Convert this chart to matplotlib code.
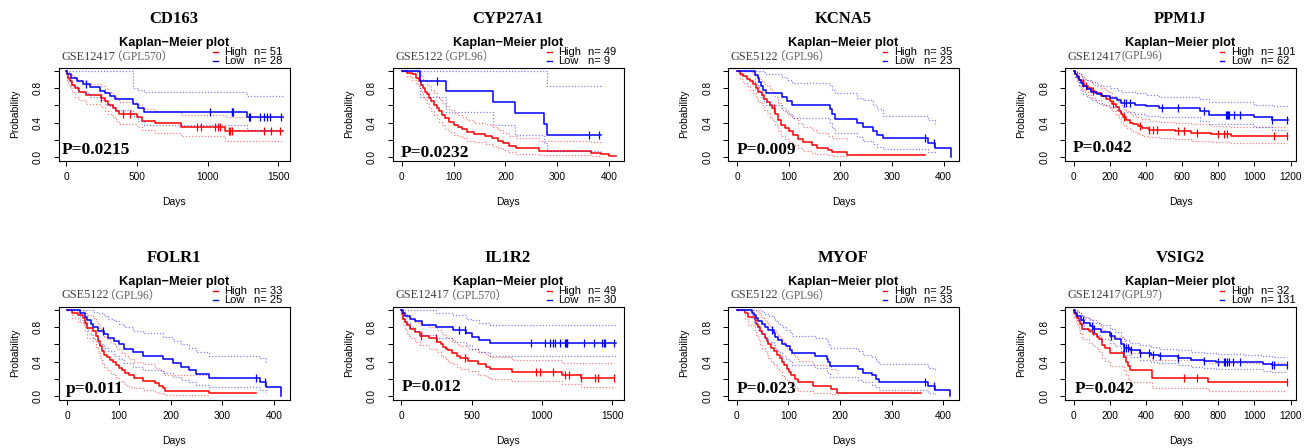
import numpy as np
import matplotlib
matplotlib.use('Agg')
import matplotlib.pyplot as plt

# ---- panel labels ----
GENES = ['CD163', 'CYP27A1', 'KCNA5', 'PPM1J', 'FOLR1', 'IL1R2', 'MYOF', 'VSIG2']
DATASETS = ['GSE12417', 'GSE5122', 'GSE5122', 'GSE12417', 'GSE5122', 'GSE12417', 'GSE5122', 'GSE12417']
PLATFORMS = ['（GPL570）', '（GPL96）', '（GPL96）', '(GPL96)', '（GPL96）', '（GPL570）', '（GPL96）', '(GPL97)']
P_LABELS = ['P=0.0215', 'P=0.0232', 'P=0.009', 'P=0.042', 'p=0.011', 'P=0.012', 'P=0.023', 'P=0.042']
N_HIGH = [51, 49, 35, 101, 33, 49, 25, 32]
N_LOW = [28, 9, 23, 62, 25, 30, 33, 131]
X_TICKS = [[0, 500, 1000, 1500], [0, 100, 200, 300, 400], [0, 100, 200, 300, 400],
           [0, 200, 400, 600, 800, 1000, 1200], [0, 100, 200, 300, 400],
           [0, 500, 1000, 1500], [0, 100, 200, 300, 400], [0, 200, 400, 600, 800, 1000, 1200]]

# ---- CD163 ----
CD163_HIGH_T = [0, 5, 12, 25, 40, 60, 95, 140, 250, 275, 300, 335, 350, 375, 500, 540, 625, 810, 1125, 1530]
CD163_HIGH_S = [1.0, 0.96, 0.92, 0.88, 0.84, 0.80, 0.76, 0.72, 0.69, 0.65, 0.61, 0.57, 0.54, 0.50, 0.46, 0.42, 0.39, 0.35, 0.30, 0.30]
CD163_HIGH_UPPER = [1.0, 1.0, 0.99, 0.97, 0.94, 0.91, 0.88, 0.85, 0.82, 0.79, 0.75, 0.71, 0.68, 0.64, 0.60, 0.56, 0.53, 0.49, 0.46, 0.46]
CD163_HIGH_LOWER = [1.0, 0.91, 0.85, 0.80, 0.75, 0.70, 0.66, 0.62, 0.58, 0.54, 0.50, 0.46, 0.42, 0.38, 0.35, 0.31, 0.28, 0.24, 0.19, 0.19]
CD163_HIGH_CENS = [250, 405, 455, 925, 950, 1050, 1070, 1085, 1150, 1160, 1175, 1400, 1450, 1510]
CD163_LOW_T = [0, 5, 33, 75, 120, 169, 240, 275, 310, 345, 473, 505, 548, 1275, 1530]
CD163_LOW_S = [1.0, 0.96, 0.92, 0.88, 0.85, 0.81, 0.77, 0.74, 0.71, 0.67, 0.62, 0.57, 0.52, 0.47, 0.47]
CD163_LOW_UPPER = [1.0, 1.0, 1.0, 1.0, 1.0, 1.0, 1.0, 1.0, 1.0, 1.0, 0.80, 0.78, 0.76, 0.71, 0.71]
CD163_LOW_LOWER = [1.0, 0.89, 0.83, 0.77, 0.74, 0.70, 0.66, 0.62, 0.59, 0.55, 0.48, 0.42, 0.37, 0.31, 0.31]
CD163_LOW_CENS = [140, 1020, 1170, 1175, 1180, 1290, 1300, 1370, 1400, 1420, 1440, 1520]

# ---- CYP27A1 ----
CYP27A1_HIGH_T = [0, 10, 20, 28, 33, 37, 40, 44, 48, 52, 57, 62, 67, 72, 77, 84, 92, 100, 108, 116, 125,
                  140, 160, 175, 185, 195, 206, 220, 265, 366, 385, 400, 413]
CYP27A1_HIGH_S = [1.0, 0.98, 0.96, 0.92, 0.88, 0.84, 0.80, 0.76, 0.73, 0.69, 0.65, 0.61, 0.57, 0.53, 0.49, 0.45, 0.41,
                  0.37, 0.35, 0.33, 0.29, 0.27, 0.25, 0.22, 0.19, 0.16, 0.13, 0.10, 0.07, 0.05, 0.03, 0.016, 0.016]
CYP27A1_HIGH_UPPER = [1.0, 1.0, 1.0, 0.99, 0.97, 0.94, 0.91, 0.88, 0.85, 0.82, 0.78, 0.74, 0.70, 0.67, 0.63, 0.59, 0.55,
                      0.51, 0.49, 0.47, 0.43, 0.40, 0.38, 0.35, 0.32, 0.28, 0.25, 0.22, 0.19, 0.17, 0.15]
CYP27A1_HIGH_LOWER = [1.0, 0.94, 0.90, 0.85, 0.80, 0.75, 0.70, 0.66, 0.62, 0.58, 0.54, 0.49, 0.45, 0.41, 0.37, 0.33, 0.29,
                      0.26, 0.24, 0.22, 0.19, 0.17, 0.15, 0.13, 0.10, 0.08, 0.06, 0.04, 0.02, 0.01, 0.0]
CYP27A1_HIGH_CENS = []
CYP27A1_LOW_T = [0, 36, 86, 176, 219, 275, 280, 385]
CYP27A1_LOW_S = [1.0, 0.889, 0.762, 0.635, 0.508, 0.381, 0.254, 0.254]
CYP27A1_LOW_UPPER = [1.0, 1.0, 1.0, 1.0, 1.0, 1.0, 0.83, 0.83]
CYP27A1_LOW_LOWER = [1.0, 0.70, 0.52, 0.37, 0.26, 0.16, 0.07, 0.07]
CYP27A1_LOW_CENS = [67, 362, 381]

# ---- KCNA5 ----
KCNA5_HIGH_T = [0, 5, 12, 18, 25, 31, 36, 41, 47, 52, 57, 63, 68, 74, 79, 85, 92, 100, 108, 118, 128, 144, 154, 176, 183, 213, 365]
KCNA5_HIGH_S = [1.0, 0.97, 0.94, 0.91, 0.88, 0.85, 0.80, 0.76, 0.72, 0.68, 0.64, 0.61, 0.57, 0.50, 0.43, 0.37, 0.34, 0.30,
                0.26, 0.21, 0.17, 0.14, 0.11, 0.085, 0.057, 0.029, 0.029]
KCNA5_HIGH_UPPER = [1.0, 1.0, 1.0, 1.0, 0.99, 0.97, 0.94, 0.91, 0.88, 0.85, 0.82, 0.79, 0.76, 0.70, 0.63, 0.57, 0.53, 0.49,
                    0.45, 0.40, 0.35, 0.31, 0.28, 0.25, 0.22, 0.20]
KCNA5_HIGH_LOWER = [1.0, 0.91, 0.86, 0.82, 0.78, 0.74, 0.69, 0.64, 0.60, 0.55, 0.51, 0.47, 0.43, 0.37, 0.30, 0.25, 0.21, 0.18,
                    0.14, 0.10, 0.07, 0.05, 0.03, 0.02, 0.01, 0.005]
KCNA5_HIGH_CENS = [71]
KCNA5_LOW_T = [0, 35, 40, 43, 46, 49, 56, 87, 97, 106, 180, 183, 190, 233, 244, 263, 270, 283, 370, 384, 415]
KCNA5_LOW_S = [1.0, 0.957, 0.913, 0.87, 0.826, 0.783, 0.739, 0.696, 0.652, 0.609, 0.56, 0.50, 0.44, 0.39, 0.35, 0.30,
               0.26, 0.22, 0.165, 0.11, 0.0]
KCNA5_LOW_UPPER = [1.0, 1.0, 1.0, 1.0, 1.0, 0.99, 0.96, 0.93, 0.89, 0.86, 0.82, 0.78, 0.74, 0.69, 0.66, 0.60, 0.56, 0.48, 0.43, 0.38]
KCNA5_LOW_LOWER = [1.0, 0.87, 0.81, 0.75, 0.70, 0.65, 0.60, 0.55, 0.50, 0.45, 0.40, 0.34, 0.28, 0.23, 0.19, 0.15, 0.12, 0.09, 0.06, 0.04]
KCNA5_LOW_CENS = [365, 382]

# ---- PPM1J ----
PPM1J_HIGH_T = [0, 10, 20, 30, 45, 60, 80, 100, 120, 150, 180, 200, 215, 235, 250, 262, 275, 290, 310, 330,
                355, 380, 420, 470, 560, 650, 760, 870, 1180]
PPM1J_HIGH_S = [1.0, 0.97, 0.94, 0.90, 0.86, 0.83, 0.80, 0.77, 0.74, 0.71, 0.68, 0.65, 0.62, 0.58, 0.54, 0.50, 0.46, 0.43,
                0.40, 0.38, 0.36, 0.34, 0.32, 0.31, 0.30, 0.28, 0.265, 0.25, 0.25]
PPM1J_HIGH_UPPER = [1.0, 1.0, 0.99, 0.96, 0.93, 0.90, 0.88, 0.85, 0.82, 0.80, 0.77, 0.74, 0.71, 0.68, 0.64, 0.60, 0.56, 0.53,
                    0.50, 0.48, 0.46, 0.44, 0.42, 0.41, 0.40, 0.38, 0.36, 0.35, 0.35]
PPM1J_HIGH_LOWER = [1.0, 0.94, 0.89, 0.84, 0.79, 0.76, 0.72, 0.69, 0.66, 0.62, 0.59, 0.56, 0.53, 0.49, 0.45, 0.41, 0.37, 0.34,
                    0.31, 0.29, 0.27, 0.25, 0.23, 0.22, 0.21, 0.19, 0.18, 0.16, 0.16]
PPM1J_HIGH_CENS = [50, 70, 110, 220, 280, 370, 420, 440, 460, 580, 610, 680, 800, 830, 850, 1110, 1180]
PPM1J_LOW_T = [0, 10, 20, 30, 40, 55, 75, 95, 130, 160, 200, 240, 265, 340, 400, 470, 700, 750, 1000, 1100, 1185]
PPM1J_LOW_S = [1.0, 0.97, 0.93, 0.89, 0.86, 0.82, 0.79, 0.76, 0.73, 0.71, 0.69, 0.66, 0.63, 0.61, 0.59, 0.57, 0.535,
               0.49, 0.46, 0.43, 0.43]
PPM1J_LOW_UPPER = [1.0, 1.0, 0.99, 0.97, 0.94, 0.91, 0.89, 0.87, 0.84, 0.82, 0.80, 0.78, 0.76, 0.74, 0.72, 0.70, 0.67,
                   0.64, 0.61, 0.59, 0.59]
PPM1J_LOW_LOWER = [1.0, 0.93, 0.87, 0.82, 0.77, 0.73, 0.70, 0.66, 0.63, 0.60, 0.58, 0.55, 0.52, 0.50, 0.48, 0.46, 0.42,
                   0.38, 0.35, 0.31, 0.31]
PPM1J_LOW_CENS = [280, 290, 310, 490, 580, 720, 845, 850, 855, 860, 890, 920, 1100, 1180]

# ---- FOLR1 ----
FOLR1_HIGH_T = [0, 10, 20, 30, 35, 38, 50, 56, 60, 64, 68, 72, 77, 82, 88, 94, 100, 106, 112, 120,
                130, 147, 170, 178, 185, 190, 275, 365]
FOLR1_HIGH_S = [1.0, 0.97, 0.94, 0.91, 0.85, 0.79, 0.76, 0.70, 0.64, 0.58, 0.52, 0.48, 0.45, 0.42, 0.39, 0.36, 0.33, 0.30,
                0.27, 0.24, 0.21, 0.18, 0.15, 0.12, 0.09, 0.06, 0.03, 0.03]
FOLR1_HIGH_UPPER = [1.0, 1.0, 1.0, 0.99, 0.97, 0.94, 0.91, 0.87, 0.83, 0.78, 0.73, 0.69, 0.66, 0.63, 0.60, 0.56, 0.53, 0.50,
                    0.46, 0.43, 0.40, 0.37, 0.33, 0.30, 0.27, 0.24, 0.24]
FOLR1_HIGH_LOWER = [1.0, 0.91, 0.86, 0.82, 0.75, 0.68, 0.64, 0.57, 0.50, 0.44, 0.38, 0.34, 0.30, 0.27, 0.24, 0.21, 0.18, 0.16,
                    0.13, 0.11, 0.09, 0.07, 0.05, 0.03, 0.02, 0.01, 0.01]
FOLR1_HIGH_CENS = []
FOLR1_LOW_T = [0, 25, 35, 38, 45, 50, 60, 72, 78, 90, 100, 110, 128, 147, 186, 205, 220, 235, 250, 275, 372, 384, 413]
FOLR1_LOW_S = [1.0, 0.96, 0.92, 0.88, 0.84, 0.80, 0.76, 0.72, 0.68, 0.64, 0.60, 0.55, 0.51, 0.47, 0.43, 0.38, 0.34, 0.30,
               0.26, 0.21, 0.165, 0.11, 0.0]
FOLR1_LOW_UPPER = [1.0, 1.0, 1.0, 1.0, 1.0, 0.98, 0.96, 0.93, 0.90, 0.87, 0.84, 0.80, 0.76, 0.73, 0.69, 0.64, 0.60, 0.56,
                   0.51, 0.47, 0.44, 0.40]
FOLR1_LOW_LOWER = [1.0, 0.88, 0.82, 0.77, 0.71, 0.66, 0.61, 0.56, 0.52, 0.47, 0.43, 0.38, 0.34, 0.30, 0.27, 0.22, 0.19, 0.16,
                   0.13, 0.10, 0.07, 0.04]
FOLR1_LOW_CENS = [69, 365, 382]

# ---- IL1R2 ----
IL1R2_HIGH_T = [0, 5, 10, 24, 40, 64, 100, 135, 194, 255, 280, 300, 320, 336, 360, 395, 420, 478, 549, 600,
                632, 785, 1140, 1275, 1515]
IL1R2_HIGH_S = [1.0, 0.95, 0.90, 0.86, 0.82, 0.78, 0.74, 0.70, 0.67, 0.63, 0.60, 0.57, 0.55, 0.53, 0.50, 0.46, 0.44, 0.41,
                0.37, 0.34, 0.315, 0.28, 0.245, 0.205, 0.205]
IL1R2_HIGH_UPPER = [1.0, 1.0, 0.98, 0.95, 0.92, 0.89, 0.86, 0.82, 0.80, 0.77, 0.74, 0.71, 0.69, 0.67, 0.64, 0.60, 0.58, 0.55,
                    0.51, 0.48, 0.45, 0.42, 0.38, 0.38, 0.38]
IL1R2_HIGH_LOWER = [1.0, 0.89, 0.82, 0.77, 0.72, 0.68, 0.63, 0.59, 0.55, 0.51, 0.48, 0.45, 0.43, 0.40, 0.37, 0.34, 0.32, 0.29,
                    0.25, 0.22, 0.20, 0.17, 0.14, 0.10, 0.10]
IL1R2_HIGH_CENS = [140, 245, 450, 960, 985, 1080, 1165, 1195, 1280, 1380, 1400, 1510]
IL1R2_LOW_T = [0, 10, 30, 60, 100, 150, 250, 370, 460, 500, 550, 630, 1530]
IL1R2_LOW_S = [1.0, 0.97, 0.93, 0.90, 0.87, 0.83, 0.80, 0.77, 0.73, 0.69, 0.65, 0.62, 0.62]
IL1R2_LOW_UPPER = [1.0, 1.0, 1.0, 1.0, 1.0, 1.0, 0.97, 0.94, 0.90, 0.88, 0.85, 0.82, 0.82]
IL1R2_LOW_LOWER = [1.0, 0.91, 0.85, 0.80, 0.76, 0.71, 0.67, 0.63, 0.59, 0.55, 0.51, 0.47, 0.47]
IL1R2_LOW_CENS = [410, 450, 920, 1020, 1060, 1080, 1090, 1130, 1165, 1170, 1175, 1180, 1300, 1370, 1430, 1440, 1450, 1510]

# ---- MYOF ----
MYOF_HIGH_T = [0, 15, 22, 35, 38, 41, 45, 49, 54, 58, 61, 66, 72, 78, 84, 87, 92, 98, 101, 104, 113, 119, 148, 182, 193, 357]
MYOF_HIGH_S = [1.0, 0.96, 0.92, 0.88, 0.84, 0.80, 0.76, 0.72, 0.68, 0.64, 0.60, 0.56, 0.52, 0.48, 0.44, 0.40, 0.36, 0.32,
               0.28, 0.24, 0.20, 0.16, 0.12, 0.08, 0.04, 0.04]
MYOF_HIGH_UPPER = [1.0, 1.0, 1.0, 1.0, 0.99, 0.97, 0.94, 0.91, 0.88, 0.85, 0.82, 0.78, 0.75, 0.71, 0.68, 0.64, 0.60, 0.56,
                   0.53, 0.49, 0.45, 0.41, 0.36, 0.31, 0.27]
MYOF_HIGH_LOWER = [1.0, 0.89, 0.82, 0.76, 0.71, 0.66, 0.61, 0.56, 0.52, 0.48, 0.44, 0.40, 0.36, 0.32, 0.28, 0.25, 0.21, 0.18,
                   0.15, 0.12, 0.09, 0.06, 0.04, 0.02, 0.01]
MYOF_HIGH_CENS = []
MYOF_LOW_T = [0, 29, 33, 37, 42, 49, 55, 61, 72, 74, 80, 87, 96, 103, 107, 151, 174, 177, 180, 235, 244, 262, 270, 276,
              370, 384, 413]
MYOF_LOW_S = [1.0, 0.97, 0.94, 0.91, 0.87, 0.84, 0.80, 0.77, 0.73, 0.69, 0.65, 0.61, 0.58, 0.54, 0.50, 0.47, 0.43, 0.39,
              0.35, 0.31, 0.27, 0.24, 0.20, 0.16, 0.12, 0.07, 0.0]
MYOF_LOW_UPPER = [1.0, 1.0, 1.0, 1.0, 1.0, 0.98, 0.95, 0.93, 0.90, 0.87, 0.84, 0.80, 0.77, 0.74, 0.70, 0.67, 0.64, 0.60,
                  0.56, 0.52, 0.48, 0.45, 0.41, 0.37, 0.33, 0.29]
MYOF_LOW_LOWER = [1.0, 0.91, 0.86, 0.82, 0.77, 0.72, 0.68, 0.63, 0.59, 0.55, 0.51, 0.47, 0.43, 0.39, 0.36, 0.33, 0.29, 0.26,
                  0.22, 0.19, 0.16, 0.13, 0.10, 0.07, 0.04, 0.02]
MYOF_LOW_CENS = [69, 365, 382]

# ---- VSIG2 ----
VSIG2_HIGH_T = [0, 5, 13, 20, 28, 37, 46, 83, 110, 129, 140, 157, 175, 203, 280, 290, 300, 313, 433, 746, 1180]
VSIG2_HIGH_S = [1.0, 0.97, 0.94, 0.91, 0.875, 0.84, 0.78, 0.75, 0.72, 0.69, 0.66, 0.59, 0.56, 0.50, 0.45, 0.40, 0.35,
                0.30, 0.21, 0.16, 0.16]
VSIG2_HIGH_UPPER = [1.0, 1.0, 1.0, 1.0, 0.98, 0.96, 0.92, 0.90, 0.88, 0.86, 0.83, 0.77, 0.74, 0.69, 0.64, 0.60, 0.55,
                    0.50, 0.42, 0.38, 0.38]
VSIG2_HIGH_LOWER = [1.0, 0.91, 0.86, 0.82, 0.77, 0.73, 0.66, 0.62, 0.58, 0.55, 0.51, 0.44, 0.41, 0.35, 0.30, 0.25, 0.20,
                    0.16, 0.09, 0.06, 0.06]
VSIG2_HIGH_CENS = [275, 610, 680, 1180]
VSIG2_LOW_T = [0, 10, 20, 40, 60, 90, 110, 150, 200, 230, 260, 280, 310, 370, 430, 470, 580, 650, 720, 790, 950, 1050, 1100, 1180]
VSIG2_LOW_S = [1.0, 0.96, 0.93, 0.88, 0.845, 0.81, 0.78, 0.74, 0.70, 0.66, 0.60, 0.56, 0.53, 0.50, 0.48, 0.46, 0.44, 0.42,
               0.41, 0.40, 0.39, 0.375, 0.36, 0.36]
VSIG2_LOW_UPPER = [1.0, 1.0, 0.98, 0.94, 0.91, 0.88, 0.85, 0.82, 0.78, 0.74, 0.69, 0.65, 0.62, 0.59, 0.57, 0.55, 0.53, 0.51,
                   0.50, 0.49, 0.48, 0.465, 0.45, 0.45]
VSIG2_LOW_LOWER = [1.0, 0.92, 0.88, 0.82, 0.78, 0.74, 0.71, 0.66, 0.62, 0.58, 0.52, 0.48, 0.45, 0.42, 0.40, 0.38, 0.36, 0.34,
                   0.33, 0.32, 0.31, 0.295, 0.28, 0.28]
VSIG2_LOW_CENS = [50, 100, 115, 210, 280, 290, 300, 320, 370, 420, 440, 480, 580, 720, 800, 830, 840, 850, 860, 880, 920,
                  1100, 1110, 1180]

HIGH_CURVES = [
    (CD163_HIGH_T, CD163_HIGH_S, CD163_HIGH_UPPER, CD163_HIGH_LOWER, CD163_HIGH_CENS),
    (CYP27A1_HIGH_T, CYP27A1_HIGH_S, CYP27A1_HIGH_UPPER, CYP27A1_HIGH_LOWER, CYP27A1_HIGH_CENS),
    (KCNA5_HIGH_T, KCNA5_HIGH_S, KCNA5_HIGH_UPPER, KCNA5_HIGH_LOWER, KCNA5_HIGH_CENS),
    (PPM1J_HIGH_T, PPM1J_HIGH_S, PPM1J_HIGH_UPPER, PPM1J_HIGH_LOWER, PPM1J_HIGH_CENS),
    (FOLR1_HIGH_T, FOLR1_HIGH_S, FOLR1_HIGH_UPPER, FOLR1_HIGH_LOWER, FOLR1_HIGH_CENS),
    (IL1R2_HIGH_T, IL1R2_HIGH_S, IL1R2_HIGH_UPPER, IL1R2_HIGH_LOWER, IL1R2_HIGH_CENS),
    (MYOF_HIGH_T, MYOF_HIGH_S, MYOF_HIGH_UPPER, MYOF_HIGH_LOWER, MYOF_HIGH_CENS),
    (VSIG2_HIGH_T, VSIG2_HIGH_S, VSIG2_HIGH_UPPER, VSIG2_HIGH_LOWER, VSIG2_HIGH_CENS),
]
LOW_CURVES = [
    (CD163_LOW_T, CD163_LOW_S, CD163_LOW_UPPER, CD163_LOW_LOWER, CD163_LOW_CENS),
    (CYP27A1_LOW_T, CYP27A1_LOW_S, CYP27A1_LOW_UPPER, CYP27A1_LOW_LOWER, CYP27A1_LOW_CENS),
    (KCNA5_LOW_T, KCNA5_LOW_S, KCNA5_LOW_UPPER, KCNA5_LOW_LOWER, KCNA5_LOW_CENS),
    (PPM1J_LOW_T, PPM1J_LOW_S, PPM1J_LOW_UPPER, PPM1J_LOW_LOWER, PPM1J_LOW_CENS),
    (FOLR1_LOW_T, FOLR1_LOW_S, FOLR1_LOW_UPPER, FOLR1_LOW_LOWER, FOLR1_LOW_CENS),
    (IL1R2_LOW_T, IL1R2_LOW_S, IL1R2_LOW_UPPER, IL1R2_LOW_LOWER, IL1R2_LOW_CENS),
    (MYOF_LOW_T, MYOF_LOW_S, MYOF_LOW_UPPER, MYOF_LOW_LOWER, MYOF_LOW_CENS),
    (VSIG2_LOW_T, VSIG2_LOW_S, VSIG2_LOW_UPPER, VSIG2_LOW_LOWER, VSIG2_LOW_CENS),
]

# ---- layout (pixels in a 1313x448 canvas) ----
FIG_W, FIG_H = 1313, 448
COL_LEFT = [58.5, 392.5, 728, 1065]
ROW_TOP = [67.5, 306.5]
AX_W, AX_H = 231, 93
XLIMS = [(-53, 1578), (-18, 428), (-18, 430), (-47, 1230), (-17, 430), (-62, 1580), (-17, 430), (-47, 1230)]
P_POS = [(0.015, 0.07), (0.037, 0.04), (0.039, 0.065), (0.035, 0.095),
         (0.032, 0.075), (0.042, 0.092), (0.039, 0.075), (0.043, 0.075)]

RED = '#ff0000'
BLUE = '#0000ff'
SERIF = 'Liberation Serif'
SANS = 'Liberation Sans'


def draw_km(ax, curve, color):
    t, s, upper, lower, cens = curve
    n = len(upper)
    dotted = (0, (1, 1.5))
    ax.step(t[:n], upper, where='post', color=color, lw=0.9, ls=dotted, alpha=0.5)
    ax.step(t[:n], lower, where='post', color=color, lw=0.9, ls=dotted, alpha=0.5)
    ax.step(t, s, where='post', color=color, lw=1.1)
    if len(cens):
        idx = np.searchsorted(t, cens, side='right') - 1
        ax.plot(cens, np.asarray(s)[idx], ls='none', marker='|', ms=5.5, mew=0.9, color=color)


fig = plt.figure(figsize=(FIG_W / 100, FIG_H / 100), dpi=100)

for i, gene in enumerate(GENES):
    row, col = divmod(i, 4)
    left = COL_LEFT[col] / FIG_W
    bottom = (FIG_H - ROW_TOP[row] - AX_H) / FIG_H
    ax = fig.add_axes([left, bottom, AX_W / FIG_W, AX_H / FIG_H])

    draw_km(ax, HIGH_CURVES[i], RED)
    draw_km(ax, LOW_CURVES[i], BLUE)

    ax.set_xlim(*XLIMS[i])
    ax.set_ylim(-0.04, 1.04)
    ax.set_xticks(X_TICKS[i])
    ax.set_xticklabels([str(v) for v in X_TICKS[i]], fontsize=7.3, family=SANS)
    ax.set_yticks([0, 0.2, 0.4, 0.6, 0.8, 1.0])
    ax.set_yticklabels(['0.0', '', '0.4', '', '0.8', ''], fontsize=7.3, family=SANS)
    ax.tick_params(axis='both', direction='out', length=3.6, width=0.7)
    ax.tick_params(axis='x', pad=4.5)
    ax.tick_params(axis='y', pad=7.5, labelrotation=90)
    for lab in ax.get_yticklabels():
        lab.set_va('center')
    for sp in ax.spines.values():
        sp.set_linewidth(0.8)

    # axis titles
    ax.text(-43.5 / AX_W, 0.5, 'Probability', rotation=90, ha='center', va='center',
            fontsize=7.5, family=SANS, transform=ax.transAxes)
    ax.text(0.5, -41.5 / AX_H, 'Days', ha='center', va='center',
            fontsize=7.5, family=SANS, transform=ax.transAxes)

    # titles
    ax.text(0.5, 1 + 49 / AX_H, gene, ha='center', va='center', fontsize=12,
            fontweight='bold', family=SERIF, transform=ax.transAxes)
    ax.text(0.5, 1 + 25 / AX_H, 'Kaplan\u2212Meier plot', ha='center', va='center', fontsize=9.2,
            fontweight='bold', family=SANS, transform=ax.transAxes)
    t1 = ax.text(0.011, 1 + 5 / AX_H, DATASETS[i], ha='left', va='bottom', fontsize=8.8,
                 color='#404040', family=[SERIF, 'Noto Sans CJK SC'], transform=ax.transAxes)
    shift = -3 if PLATFORMS[i].startswith('（') else 0
    ax.annotate(PLATFORMS[i], xy=(1, 0), xycoords=t1, xytext=(shift, 0), textcoords='offset points',
                ha='left', va='bottom', fontsize=8.3, color='#606060', family=[SERIF, 'Noto Sans CJK SC'])

    # legend
    for yy, color, name, n in [(1 + 15.8 / AX_H, RED, 'High', N_HIGH[i]),
                               (1 + 6.5 / AX_H, BLUE, 'Low', N_LOW[i])]:
        ax.plot([0.670, 0.690], [yy, yy], color=color, lw=1.0, transform=ax.transAxes, clip_on=False)
        ax.text(0.718, yy, name, ha='left', va='center', fontsize=8, family=SANS, transform=ax.transAxes)
        ax.text(0.848, yy, f'n= {n}', ha='left', va='center', fontsize=8, family=SANS, transform=ax.transAxes)

    # p-value
    px, py = P_POS[i]
    ax.text(px, py, P_LABELS[i], ha='left', va='baseline', fontsize=12.5, fontweight='bold',
            family=SERIF, transform=ax.transAxes)

fig.savefig('out.png', dpi=100, facecolor='white')
